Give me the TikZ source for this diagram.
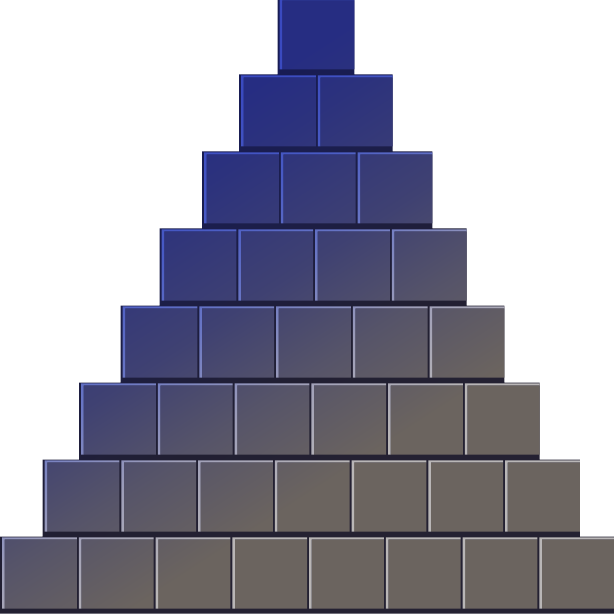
\documentclass[tikz,border=0pt]{standalone}
\definecolor{mA}{RGB}{38,45,130}
\definecolor{mB}{RGB}{44,50,125}
\definecolor{mC}{RGB}{63,65,114}
\definecolor{mD}{RGB}{86,84,105}
\definecolor{mE}{RGB}{107,100,95}
\definecolor{dA}{RGB}{24,28,84}
\definecolor{dB}{RGB}{27,30,78}
\definecolor{dC}{RGB}{30,30,62}
\definecolor{dD}{RGB}{33,31,50}
\definecolor{dE}{RGB}{36,33,50}
\definecolor{lA}{RGB}{58,74,192}
\definecolor{lB}{RGB}{72,90,196}
\definecolor{lC}{RGB}{105,118,196}
\definecolor{lD}{RGB}{158,158,184}
\definecolor{lE}{RGB}{185,182,182}
\pgfdeclarehorizontalshading{pyrmain}{100bp}{color(0bp)=(mA); color(32.4bp)=(mA); color(37bp)=(mB); color(47bp)=(mC); color(54.6bp)=(mD); color(63bp)=(mE); color(100bp)=(mE)}
\pgfdeclarehorizontalshading{pyrdark}{100bp}{color(0bp)=(dA); color(32.4bp)=(dA); color(39.8bp)=(dB); color(47.2bp)=(dC); color(54.6bp)=(dD); color(63bp)=(dE); color(100bp)=(dE)}
\pgfdeclarehorizontalshading{pyrlight}{100bp}{color(0bp)=(lA); color(32.4bp)=(lA); color(39.8bp)=(lB); color(46.7bp)=(lC); color(54.6bp)=(lD); color(63bp)=(lE); color(100bp)=(lE)}
\newcommand{\pyrrowlist}{1/277.5,2/239,3/202,4/159.5,5/120.5,6/79,7/42.5,8/0}
\begin{document}
\begin{tikzpicture}[x=0.5pt,y=-0.5pt]
\useasboundingbox (0,0) rectangle (614,614);
\clip (0,0) rectangle (614,614);
\fill[white] (0,0) rectangle (614,614);
% dark cells
\begin{scope}
\clip \foreach \k/\L in \pyrrowlist { \foreach \i in {1,...,\k} {
  ({\L+(\i-1)*76.75},{536.5-(8-\k)*77}) rectangle +(76.75,77) } };
\shade[shading=pyrdark, shading angle=-57] (0,0) rectangle (614,614);
\end{scope}
% main fills
\begin{scope}
\clip \foreach \k/\L in \pyrrowlist { \foreach \i in {1,...,\k} {
  ({\L+(\i-1)*76.75+4.5},{536.5-(8-\k)*77+2.8}) rectangle +(72.25,69.2) } };
\shade[shading=pyrmain, shading angle=-57] (0,0) rectangle (614,614);
\end{scope}
% light bevel lines
\begin{scope}
\clip \foreach \k/\L in \pyrrowlist { \foreach \i in {1,...,\k} {
  ({\L+(\i-1)*76.75+2},{536.5-(8-\k)*77+0.8}) rectangle +(74.75,2)
  ({\L+(\i-1)*76.75+2},{536.5-(8-\k)*77+0.8}) rectangle +(2.5,71.2) } };
\shade[shading=pyrlight, shading angle=-57] (0,0) rectangle (614,614);
\end{scope}
\end{tikzpicture}
\end{document}
